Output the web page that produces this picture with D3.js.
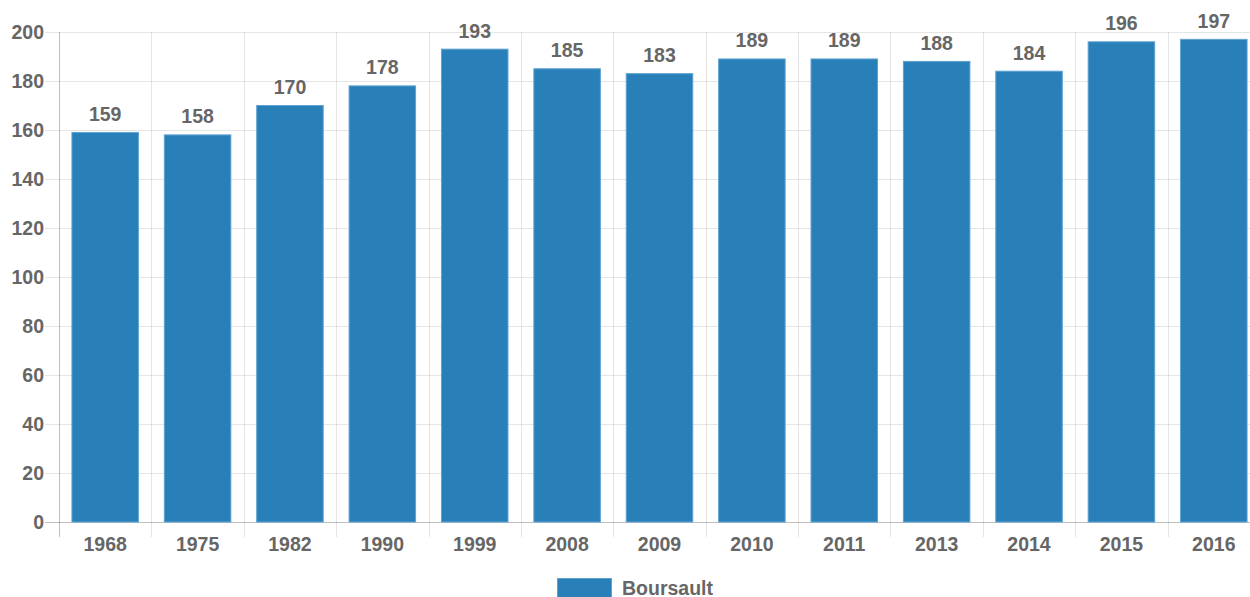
<!DOCTYPE html>
<html><head><meta charset="utf-8">
<script src="https://cdn.jsdelivr.net/npm/d3@7"></script>
<style>body{margin:0;background:#fff;overflow:hidden}svg{display:block}</style>
</head><body>
<svg id="c" width="1250" height="597"></svg>
<script>
const categories = ["1968","1975","1982","1990","1999","2008","2009","2010","2011","2013","2014","2015","2016"];
const values = [159,158,170,178,193,185,183,189,189,188,184,196,197];
const yTicks = [0,20,40,60,80,100,120,140,160,180,200];
const seriesName = "Boursault";

(function () {
const svg = d3.select("#c");
const pLeft = 59, pRight = 1260, pTop = 32, pBottom = 522;
const font = "'Liberation Sans', Arial, sans-serif";
const fs = 19.5;
const textColor = "#666";
const grid = "rgba(0,0,0,0.1)";

const x = d3.scaleBand().domain(categories).range([pLeft, pRight]).paddingInner(0).paddingOuter(0);
const y = d3.scaleLinear().domain([0, 200]).range([pBottom, pTop]);

svg.append("g").selectAll("line").data(yTicks).join("line")
  .attr("x1", 45).attr("x2", pRight)
  .attr("y1", d => Math.round(y(d)) + 0.5).attr("y2", d => Math.round(y(d)) + 0.5)
  .attr("stroke", d => d === 0 ? "rgba(0,0,0,0.25)" : grid).attr("stroke-width", 1);

const bounds = categories.map(c => x(c));
svg.append("g").selectAll("line").data(bounds).join("line")
  .attr("x1", d => Math.round(d) + 0.5).attr("x2", d => Math.round(d) + 0.5)
  .attr("y1", pTop).attr("y2", pBottom + 15)
  .attr("stroke", (d, i) => i === 0 ? "rgba(0,0,0,0.25)" : grid);

svg.append("g").selectAll("text").data(yTicks).join("text")
  .attr("x", 44).attr("y", d => y(d)).attr("dy", "0.35em")
  .attr("text-anchor", "end").attr("font-family", font).attr("font-weight", "bold")
  .attr("font-size", fs).attr("fill", textColor).text(d => d);

svg.append("g").selectAll("text").data(categories).join("text")
  .attr("x", d => x(d) + x.bandwidth() / 2).attr("y", pBottom + 29)
  .attr("text-anchor", "middle").attr("font-family", font).attr("font-weight", "bold")
  .attr("font-size", fs).attr("fill", textColor).text(d => d);

const bw = x.bandwidth() * 0.72;
svg.append("g").selectAll("rect").data(values).join("rect")
  .attr("x", (d, i) => x(categories[i]) + (x.bandwidth() - bw) / 2)
  .attr("y", d => y(d)).attr("width", bw).attr("height", d => pBottom - y(d))
  .attr("fill", "#2980b9").attr("stroke", "#5fa3d3").attr("stroke-width", 1);

svg.append("g").selectAll("text").data(values).join("text")
  .attr("x", (d, i) => x(categories[i]) + x.bandwidth() / 2).attr("y", d => y(d) - 11.5)
  .attr("text-anchor", "middle").attr("font-family", font).attr("font-weight", "bold")
  .attr("font-size", fs).attr("fill", textColor).text(d => d);

const lg = svg.append("g");
lg.append("rect").attr("x", 557.5).attr("y", 578.5).attr("width", 54).attr("height", 20)
  .attr("fill", "#2980b9").attr("stroke", "#5fa3d3");
lg.append("text").attr("x", 622).attr("y", 594.5).attr("font-family", font).attr("font-weight", "bold")
  .attr("font-size", fs).attr("fill", textColor).text(seriesName);
})();
</script>
</body></html>
